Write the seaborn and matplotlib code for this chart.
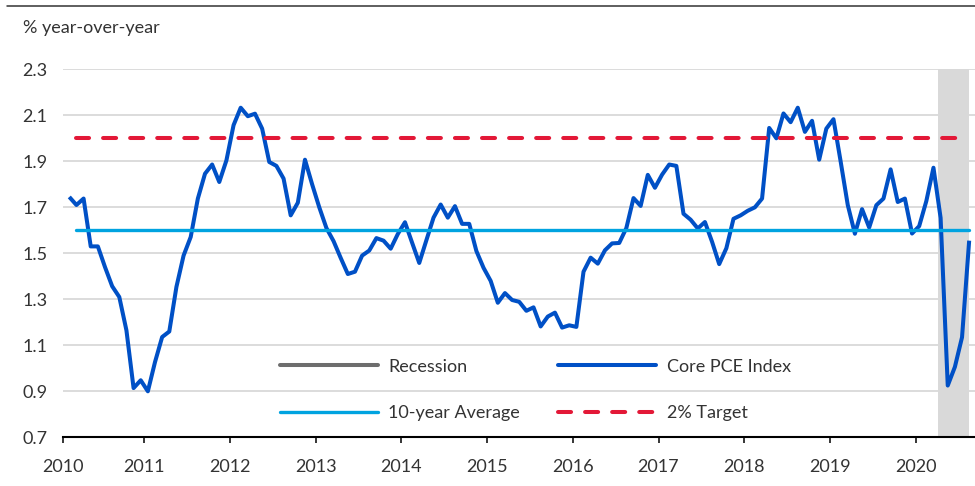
import numpy as np
import pandas as pd
import matplotlib
matplotlib.use("Agg")
import matplotlib.pyplot as plt
from matplotlib.lines import Line2D
import seaborn as sns

# ---------------- data ----------------
months = pd.period_range("2010-01", periods=127, freq="M")
core_pce = [
    1.745, 1.71, 1.738, 1.53, 1.53, 1.44, 1.357, 1.31, 1.165, 0.914, 0.948, 0.90,
    1.027, 1.136, 1.16, 1.354, 1.49, 1.571, 1.738, 1.846, 1.886, 1.81, 1.904, 2.057,
    2.133, 2.096, 2.107, 2.042, 1.897, 1.88, 1.825, 1.665, 1.72, 1.907, 1.80, 1.70,
    1.61, 1.553, 1.48, 1.41, 1.42, 1.49, 1.512, 1.566, 1.555, 1.52, 1.584, 1.635,
    1.546, 1.458, 1.557, 1.655, 1.712, 1.655, 1.705, 1.628, 1.628, 1.51, 1.437, 1.38,
    1.285, 1.327, 1.297, 1.289, 1.25, 1.265, 1.182, 1.225, 1.242, 1.177, 1.187, 1.18,
    1.42, 1.481, 1.455, 1.513, 1.543, 1.545, 1.61, 1.74, 1.706, 1.841, 1.785, 1.842,
    1.886, 1.88, 1.672, 1.646, 1.608, 1.636, 1.55, 1.453, 1.522, 1.65, 1.665, 1.685,
    1.70, 1.738, 2.045, 2.0, 2.108, 2.07, 2.133, 2.028, 2.076, 1.907, 2.042, 2.083,
    1.90, 1.71, 1.585, 1.692, 1.612, 1.709, 1.738, 1.865, 1.723, 1.738, 1.586, 1.618,
    1.727, 1.872, 1.654, 0.925, 1.006, 1.135, 1.555,
]
ten_year_average = 1.6
target = 2.0
recession_start, recession_end = 2020.26, 2020.62
year_labels = [str(y) for y in range(2010, 2021)]
y_ticks = [0.7, 0.9, 1.1, 1.3, 1.5, 1.7, 1.9, 2.1, 2.3]
y_tick_labels = ["0.7", "0.9", "1.1", "1.3", "1.5", "1.7", "1.9", "2.1", "2.3"]
legend_labels = ["Recession", "Core PCE Index", "10-year Average", "2% Target"]
y_title = "% year-over-year"

# ---------------- style ----------------
BLUE = "#0050C6"
CYAN = "#00A3E0"
RED = "#E31837"
REC_FILL = "#D9D9D9"
REC_LEG = "#6D6D6D"
GRID = "#D9D9D9"
TXT = "#333333"
FS = 13
DASH = [3.24, 3.48]

sns.set_theme(style="white")
plt.rcParams["font.family"] = ["Lato", "DejaVu Sans"]

W, H = 975, 486
fig = plt.figure(figsize=(W / 100, H / 100), dpi=100)
ax_left, ax_right, ax_top, ax_bot = 63.3, 975, 69.3, 437.3
ax = fig.add_axes([ax_left / W, (H - ax_bot) / H, (ax_right - ax_left) / W, (ax_bot - ax_top) / H])

x = months.year + (months.month - 1 + 1.5) / 12.0
df = pd.DataFrame({"x": np.asarray(x, dtype=float), "core": core_pce})

x_left, x_right = 2010.055, 2020.693

ax.axvspan(recession_start, recession_end, color=REC_FILL, lw=0, zorder=1)
sns.lineplot(data=df, x="x", y="core", ax=ax, color=BLUE, lw=2.9, zorder=3,
             solid_joinstyle="round", solid_capstyle="butt")
ref = pd.DataFrame({"x": [df["x"].iloc[1], df["x"].iloc[-1]],
                    "avg": [ten_year_average] * 2, "tgt": [target] * 2})
sns.lineplot(data=ref, x="x", y="avg", ax=ax, color=CYAN, lw=2.4, zorder=4)
sns.lineplot(data=ref, x="x", y="tgt", ax=ax, color=RED, lw=2.9, zorder=5)
tgt_line = ax.lines[-1]
tgt_line.set_dashes(DASH)
tgt_line.set_dash_capstyle("round")

ax.set_xlim(x_left, x_right)
ax.set_ylim(0.7, 2.3)
ax.set_xlabel("")
ax.set_ylabel("")

ax.set_yticks(y_ticks)
ax.set_yticklabels(y_tick_labels)
ax.yaxis.grid(True, color=GRID, lw=1.3)
ax.xaxis.grid(False)
ax.set_axisbelow(True)
ax.tick_params(axis="y", length=0, pad=(ax_left - 22.7) * 0.72, labelsize=FS, labelcolor=TXT)
for lab in ax.get_yticklabels():
    lab.set_ha("left")

ax.set_xticks([x_left] + list(range(2011, 2021)))
ax.set_xticklabels(year_labels)
ax.tick_params(axis="x", length=4.5, width=1.1, color="black", direction="out",
               pad=11, labelsize=FS, labelcolor=TXT, bottom=True)

for s in ["top", "right", "left"]:
    ax.spines[s].set_visible(False)
ax.spines["bottom"].set_color("black")
ax.spines["bottom"].set_linewidth(1.5)
ax.spines["bottom"].set_zorder(6)

# legend
h_rec = Line2D([], [], color=REC_LEG, lw=2.9)
h_core = Line2D([], [], color=BLUE, lw=2.9)
h_avg = Line2D([], [], color=CYAN, lw=2.4)
h_tgt = Line2D([], [], color=RED, lw=2.9, dashes=DASH, dash_capstyle="round")
leg = ax.legend([h_rec, h_avg, h_core, h_tgt],
                [legend_labels[0], legend_labels[2], legend_labels[1], legend_labels[3]],
                ncol=2, frameon=False, handlelength=5.4, handletextpad=0.6,
                columnspacing=2.12, labelspacing=1.68, loc="upper left",
                bbox_to_anchor=((280 - ax_left) / (ax_right - ax_left), (ax_bot - 358.5) / (ax_bot - ax_top)),
                borderpad=0, borderaxespad=0, fontsize=FS)
for t in leg.get_texts():
    t.set_color(TXT)

# title and top rule
fig.text(22.7 / W, 1 - 28 / H, y_title, ha="left", va="center", fontsize=FS, color=TXT)
fig.add_artist(Line2D([7 / W, 1.0], [1 - 5.7 / H] * 2, transform=fig.transFigure,
                      color="#333333", lw=1.1))

fig.savefig("out.png", dpi=100)
